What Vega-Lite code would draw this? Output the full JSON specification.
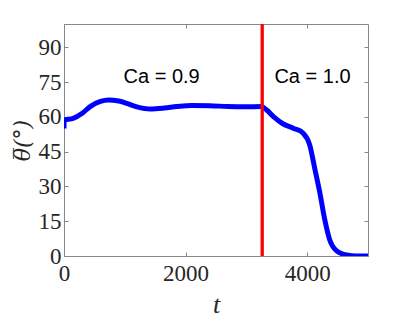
{
  "$schema": "https://vega.github.io/schema/vega-lite/v6.json",
  "autosize": {"type": "none"},
  "padding": {"left": 64, "top": 24, "right": 39, "bottom": 69},
  "width": 304,
  "height": 232,
  "background": "white",
  "config": {
    "view": {"stroke": "#888888", "strokeWidth": 1},
    "axis": {
      "labelFont": "Liberation Serif",
      "labelFontSize": 23,
      "labelColor": "#262626",
      "labelFlush": false,
      "labelOverlap": false,
      "titleFont": "Liberation Serif",
      "titleColor": "#262626",
      "domainColor": "#888888",
      "tickColor": "#888888",
      "tickSize": -4,
      "grid": false
    }
  },
  "datasets": {
    "curve": [
      {"t": 0, "theta": 55},
      {"t": 1, "theta": 58.6},
      {"t": 150, "theta": 59.3},
      {"t": 300, "theta": 61.5},
      {"t": 430, "theta": 64.4},
      {"t": 600, "theta": 66.6},
      {"t": 730, "theta": 67.2},
      {"t": 900, "theta": 66.8},
      {"t": 1030, "theta": 65.8},
      {"t": 1200, "theta": 64.3},
      {"t": 1420, "theta": 63.4},
      {"t": 1650, "theta": 63.8},
      {"t": 1850, "theta": 64.4},
      {"t": 2100, "theta": 64.9},
      {"t": 2400, "theta": 64.8},
      {"t": 2700, "theta": 64.4},
      {"t": 3000, "theta": 64.3},
      {"t": 3250, "theta": 64.4},
      {"t": 3330, "theta": 63},
      {"t": 3450, "theta": 60},
      {"t": 3600, "theta": 57},
      {"t": 3780, "theta": 55},
      {"t": 3930, "theta": 53},
      {"t": 4040, "theta": 48},
      {"t": 4130, "theta": 37},
      {"t": 4210, "theta": 27},
      {"t": 4290, "theta": 15.5},
      {"t": 4370, "theta": 7},
      {"t": 4480, "theta": 2.3},
      {"t": 4650, "theta": 0.4},
      {"t": 4800, "theta": 0},
      {"t": 5000, "theta": 0}
    ],
    "marker": [{"t": 3260}],
    "labels": [
      {"t": 1606, "theta": 77.3, "label": "Ca = 0.9"},
      {"t": 4087, "theta": 77.3, "label": "Ca = 1.0"}
    ]
  },
  "layer": [
    {
      "data": {"name": "curve"},
      "mark": {"type": "line", "color": "#0000ff", "strokeWidth": 5, "interpolate": "monotone", "clip": true},
      "encoding": {
        "x": {"field": "t", "type": "quantitative",
              "scale": {"domain": [0, 5000], "nice": false},
              "axis": {"orient": "bottom", "values": [0, 2000, 4000], "format": "d", "labelPadding": 10,
                       "title": "t", "titleFontStyle": "italic", "titleFontSize": 26, "titleFontWeight": "normal", "titlePadding": 6}},
        "y": {"field": "theta", "type": "quantitative",
              "scale": {"domain": [0, 100], "nice": false},
              "axis": {"orient": "left", "values": [0, 15, 30, 45, 60, 75, 90], "labelPadding": 7,
                       "title": "θ̅(°)", "titleFont": "DejaVu Serif", "titleFontStyle": "italic", "titleFontSize": 22, "titleFontWeight": "normal", "titlePadding": 4}}
      }
    },
    {
      "data": {"name": "marker"},
      "mark": {"type": "rule", "color": "#ff0000", "strokeWidth": 3.3},
      "encoding": {
        "x": {"field": "t", "type": "quantitative",
              "axis": {"orient": "top", "values": [0, 2000, 4000], "labels": false, "title": null, "domain": false}}
      }
    },
    {
      "data": {"name": "curve"},
      "mark": {"type": "line", "opacity": 0},
      "encoding": {
        "x": {"field": "t", "type": "quantitative", "axis": null},
        "y": {"field": "theta", "type": "quantitative",
              "axis": {"orient": "right", "values": [0, 15, 30, 45, 60, 75, 90], "labels": false, "title": null, "domain": false}}
      }
    },
    {
      "data": {"name": "labels"},
      "mark": {"type": "text", "font": "Liberation Sans", "fontSize": 20, "color": "#000000", "align": "center", "baseline": "middle"},
      "encoding": {
        "x": {"field": "t", "type": "quantitative", "axis": null},
        "y": {"field": "theta", "type": "quantitative", "axis": null},
        "text": {"field": "label"}
      }
    }
  ],
  "resolve": {"axis": {"x": "independent", "y": "independent"}}
}
